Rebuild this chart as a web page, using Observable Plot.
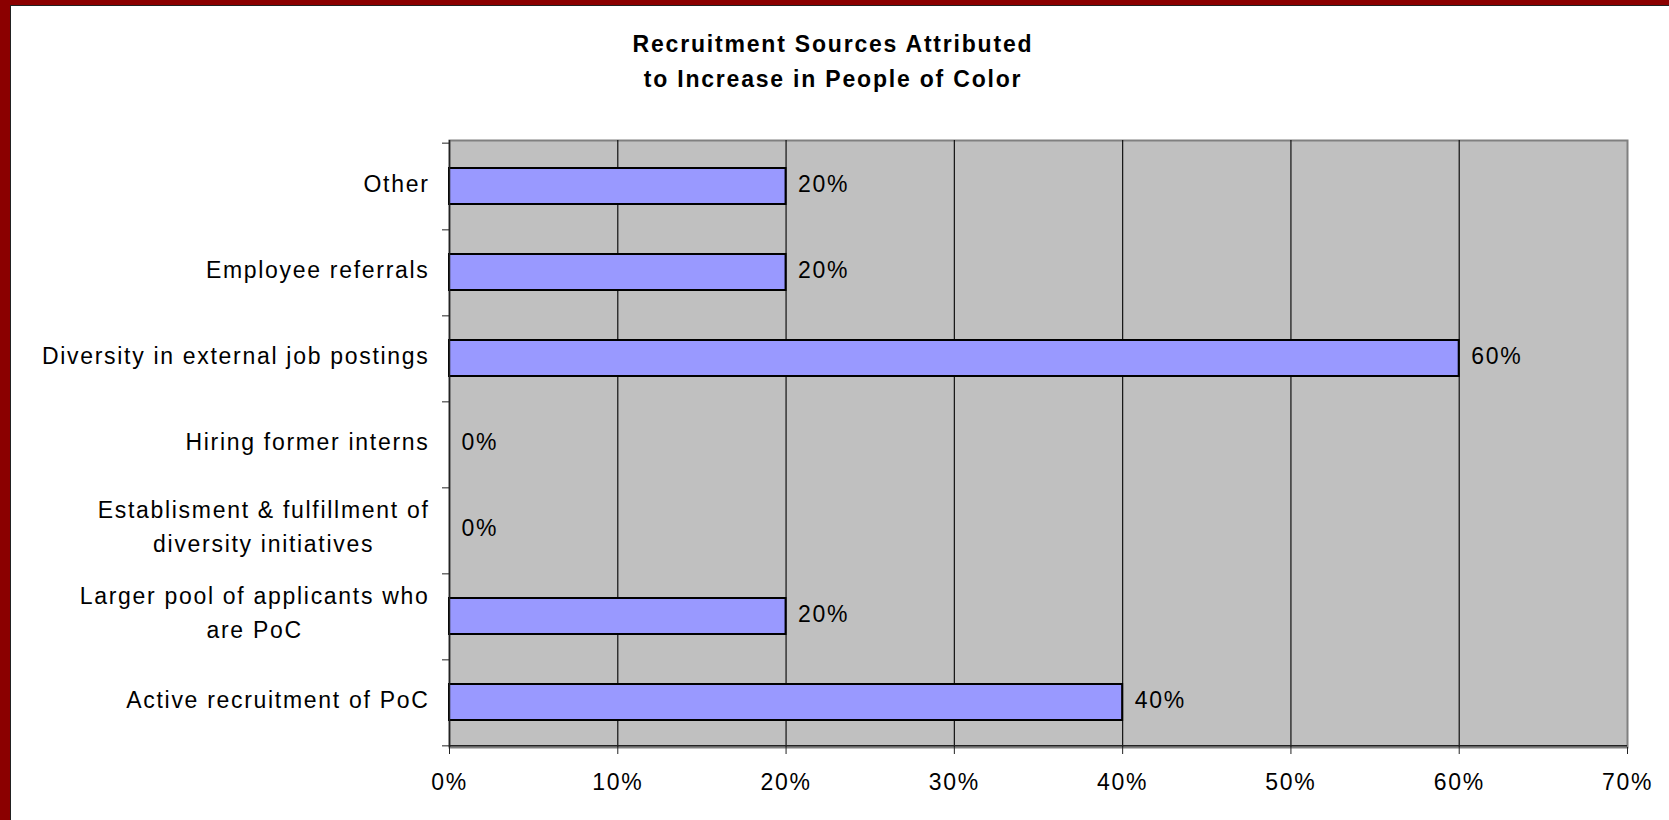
<!DOCTYPE html>
<html><head><meta charset="utf-8">
<script src="https://cdn.jsdelivr.net/npm/d3@7"></script>
<script src="https://cdn.jsdelivr.net/npm/@observablehq/plot@0.6"></script>
<style>
body{margin:0;background:#fff;}
#page{position:relative;width:1669px;height:820px;box-sizing:border-box;border-left:10px solid #8b0000;border-top:5px solid #8b0000;overflow:hidden}
#inner{width:100%;height:100%;box-sizing:border-box;border-left:1px solid #222;border-top:1px solid #222;background:#fff}
#title{box-sizing:border-box;height:104px;padding-top:21px;padding-right:14px;text-align:center;font:bold 23px/35px "Liberation Sans",Arial,sans-serif;letter-spacing:1.8px;color:#000}
#chart svg{display:block}
</style></head><body>
<div id="page"><div id="inner">
<div id="title">Recruitment Sources Attributed<br>to Increase in People of Color</div>
<div id="chart"></div>
</div></div>
<script>
const categories = [
  "Other",
  "Employee referrals",
  "Diversity in external job postings",
  "Hiring former interns",
  "Establisment & fulfillment of\ndiversity initiatives",
  "Larger pool of applicants who\nare PoC",
  "Active recruitment of PoC"
];
const values = [0.20, 0.20, 0.60, 0.00, 0.00, 0.20, 0.40];
const xTicks = [0, 0.1, 0.2, 0.3, 0.4, 0.5, 0.6, 0.7];
const gridTicks = [0.1, 0.2, 0.3, 0.4, 0.5, 0.6];

const data = categories.map((c, i) => ({category: c, value: values[i]}));

const width = 1658, height = 710;
const marginTop = 30, marginBottom = 73, marginLeft = 438, marginRight = 42;
const step = (height - marginTop - marginBottom) / categories.length;
const pct = d3.format(".0%");
const LS = 1.7;
const FONT = "'Liberation Sans', Arial, sans-serif";

const ctx = document.createElement("canvas").getContext("2d");
ctx.font = "23px " + FONT;
const textWidth = s => ctx.measureText(s).width + LS * s.length;

const singles = data.filter(d => !d.category.includes("\n"));
const multis = data.filter(d => d.category.includes("\n"));

const chart = Plot.plot({
  width, height, marginTop, marginBottom, marginLeft, marginRight,
  style: {fontFamily: FONT, fontSize: "23px", letterSpacing: LS + "px", color: "#000", background: "transparent"},
  x: {domain: [0, 0.7]},
  y: {domain: categories, padding: 0},
  marks: [
    Plot.frame({fill: "#c0c0c0", stroke: "#808080", strokeWidth: 2}),
    Plot.ruleX(gridTicks, {stroke: "#111", strokeWidth: 1.2}),
    Plot.barX(data, {x: "value", y: "category", fill: "#9999ff", stroke: "#000", strokeWidth: 2, insetTop: 25, insetBottom: 25}),
    Plot.ruleX([0], {stroke: "#222", strokeWidth: 1.5}),
    Plot.ruleY([categories[categories.length - 1]], {dy: step / 2, stroke: "#222", strokeWidth: 1.5}),
    Plot.axisY({tickSize: 7, fill: "none", stroke: "#222", dy: step / 2, label: null}),
    Plot.axisY({ticks: [categories[0]], tickSize: 7, fill: "none", stroke: "#222", dy: -step / 2, label: null}),
    Plot.text(singles, {y: "category", text: d => d.category, frameAnchor: "left", dx: -20, dy: -2, textAnchor: "end", fill: "#000"}),
    Plot.text(multis, {y: "category", text: d => d.category.split("\n")[0], frameAnchor: "left", dx: -20, dy: -20, textAnchor: "end", fill: "#000"}),
    ...multis.map(d => {
      const [l1, l2] = d.category.split("\n");
      return Plot.text([d], {y: "category", text: () => l2, frameAnchor: "left", dx: -20 - textWidth(l1) / 2, dy: 14, textAnchor: "middle", fill: "#000"});
    }),
    Plot.axisX({ticks: xTicks, tickFormat: pct, tickSize: 7, tickPadding: 19, stroke: "#222", label: null}),
    Plot.text(data, {x: "value", y: "category", text: d => pct(d.value), dx: 12, dy: -2, textAnchor: "start", fill: "#000"})
  ]
});
document.getElementById("chart").appendChild(chart);
</script>
</body></html>
